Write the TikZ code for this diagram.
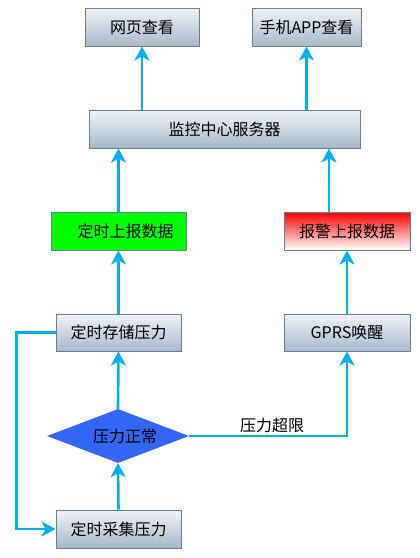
\documentclass[tikz,border=0pt]{standalone}
\usepackage{fontspec}
\setmainfont{Noto Sans CJK SC}
\usepackage{tikz}
\usetikzlibrary{arrows.meta}
\usetikzlibrary{shapes.geometric}

\definecolor{flowline}{RGB}{0,176,240}
\definecolor{boxtop}{RGB}{238,243,248}
\definecolor{boxbottom}{RGB}{168,184,202}
\definecolor{boxborder}{RGB}{96,128,158}
\definecolor{decide}{RGB}{52,102,246}

\tikzset{
  box/.style={draw=boxborder, line width=1pt, top color=boxtop, bottom color=boxbottom,
    minimum height=38pt, inner sep=0pt, font=\fontsize{16}{16}\selectfont},
  flow/.style={draw=flowline, line width=2.6pt,
    -{Stealth[length=14pt,width=15pt,inset=4pt]}}
}

\begin{document}
\begin{tikzpicture}[x=1pt,y=1pt,yscale=-1,xscale=1]
\useasboundingbox (0,0) rectangle (420,558);

%Shape: Rectangle
\node [box, minimum width=114pt] (web) at (142,27) {网页查看};
%Shape: Rectangle
\node [box, minimum width=109pt] (app) at (306.5,27) {手机APP查看};
%Shape: Rectangle
\node [box, minimum width=271pt] (server) at (224.5,129) {监控中心服务器};
%Shape: Rectangle
\node [box, minimum width=135pt, top color=green, bottom color=green] (timed) at (118.5,231) {\hspace{14pt}定时上报数据};
%Shape: Rectangle
\node [box, minimum width=126pt, top color=red, bottom color=white] (alarm) at (347,231) {报警上报数据};
%Shape: Rectangle
\node [box, minimum width=125pt, minimum height=37pt] (store) at (118.5,332.5) {定时存储压力};
%Shape: Rectangle
\node [box, minimum width=126pt, minimum height=37pt] (gprs) at (347,332.5) {GPRS唤醒};
%Shape: Diamond
\node [diamond, fill=decide, minimum width=142pt, minimum height=54pt, inner sep=0pt, aspect=2.6,
  font=\fontsize{16}{16}\selectfont] (normal) at (118,436) {\hspace{14pt}压力正常};
%Shape: Rectangle
\node [box, minimum width=125pt] (collect) at (118.5,529) {定时采集压力};

%Straight Lines
\draw [flow] (server.north -| web) -- (web.south);
\draw [flow] (server.north -| app) -- (app.south);
\draw [flow] (timed.north) -- (timed.north |- server.south);
\draw [flow] (alarm.north -| 329,0) -- (329,0 |- server.south);
\draw [flow] (store.north) -- (timed.south);
\draw [flow] (gprs.north) -- (alarm.south);
\draw [flow] (normal.north) -- (store.south);
\draw [flow] (collect.north) -- (normal.south);
\draw [flow] (normal.east) -| (gprs.south);
\draw [flow] (store.west) -- ++(-39,0) |- (collect.west);

% Text Node
\node [anchor=south, inner sep=0pt, font=\fontsize{16}{16}\selectfont] (over) at (272,433) {压力超限};

\end{tikzpicture}
\end{document}
